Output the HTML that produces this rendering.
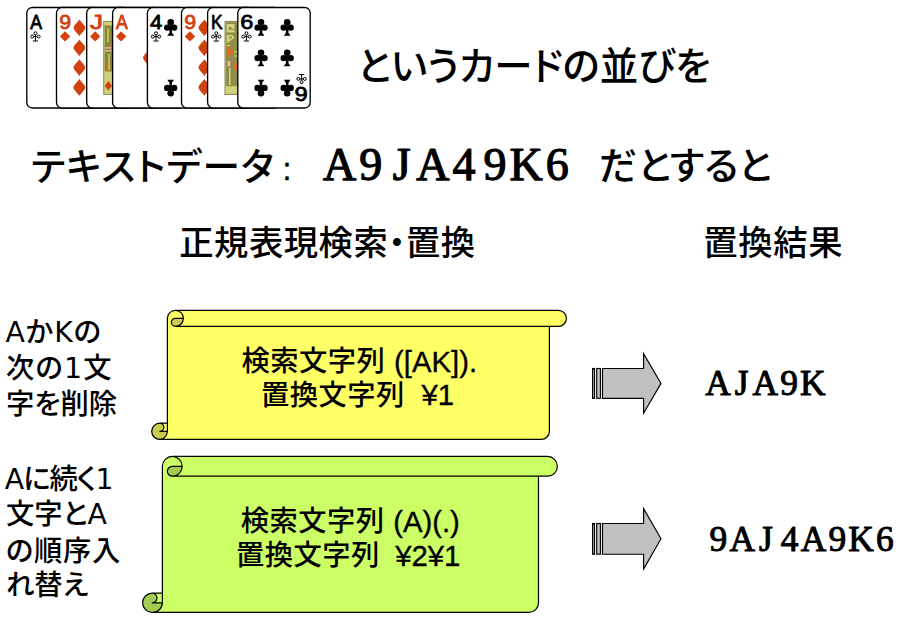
<!DOCTYPE html>
<html lang="ja">
<head>
<meta charset="utf-8">
<title>正規表現検索・置換</title>
<style>
html,body{margin:0;padding:0;background:#fff;}
body{width:908px;height:621px;position:relative;overflow:hidden;color:#000;
 font-family:"Liberation Sans","Noto Sans CJK JP",sans-serif;font-weight:500;}
.t{position:absolute;white-space:nowrap;line-height:1;margin:0;padding:0;font-feature-settings:"palt";}
.lab{font-size:28.3px;}
.dj{font-family:"DejaVu Sans","Liberation Sans","Noto Sans CJK JP",sans-serif;}
.en{font-size:29.3px;line-height:0;-webkit-text-stroke:0.35px #000;position:relative;top:-1px;}
.c .en{letter-spacing:0;top:0.5px;}
.c{width:400px;text-align:center;}
svg{position:absolute;left:0;top:0;}
svg text.rk{font-family:"Liberation Sans",sans-serif;font-weight:normal;font-size:20px;text-anchor:middle;stroke-width:0.8;stroke-linejoin:round;}
svg text.mono{font-family:"Liberation Serif",serif;font-weight:normal;text-anchor:middle;fill:#000;stroke:#000;stroke-linejoin:round;}
</style>
</head>
<body>
<svg id="shapes" width="908" height="621" viewBox="0 0 908 621">
<g id="cards">
<g><rect x="26.8" y="7.5" width="72.4" height="100.5" rx="5.5" ry="5.5" fill="#fff" stroke="#000" stroke-width="1.35"/><svg x="26.8" y="0" width="29.7" height="112" viewBox="26.8 0 29.7 112" overflow="hidden"><text class="rk" transform="translate(36.05,28.7) scale(0.88,1)" fill="#000" stroke="#000">A</text><g transform="translate(35.4,36.4)" fill="none" stroke="#000" stroke-width="1"><circle cx="0" cy="-3.1" r="1.5"/><circle cx="-3.2" cy="0.2" r="1.5"/><circle cx="3.2" cy="0.2" r="1.5"/><path d="M0,-1.6 L0,4.4 M-2.6,4.6 L2.6,4.6 M-1.7,0.2 L1.7,0.2"/></g></svg></g>
<g><rect x="56.5" y="7.5" width="72.4" height="100.5" rx="5.5" ry="5.5" fill="#fff" stroke="#000" stroke-width="1.35"/><svg x="56.5" y="0" width="30.2" height="112" viewBox="56.5 0 30.2 112" overflow="hidden"><text class="rk" transform="translate(65.3,28.7) scale(1.07,1)" fill="#d2420f" stroke="#d2420f">9</text><path transform="translate(65,36.4)" d="M0,-5.2 L5.2,0 L0,5.2 L-5.2,0 Z" fill="#d2420f"/><path transform="translate(79.4,27.8)" d="M0,-8.3 C2.2,-5.2 5.9,-2.2 5.9,0 C5.9,2.2 2.2,5.2 0,8.3 C-2.2,5.2 -5.9,2.2 -5.9,0 C-5.9,-2.2 -2.2,-5.2 0,-8.3 Z" fill="#d2420f"/><path transform="translate(79.4,47.8)" d="M0,-8.3 C2.2,-5.2 5.9,-2.2 5.9,0 C5.9,2.2 2.2,5.2 0,8.3 C-2.2,5.2 -5.9,2.2 -5.9,0 C-5.9,-2.2 -2.2,-5.2 0,-8.3 Z" fill="#d2420f"/><path transform="translate(79.4,67.6) scale(1,-1)" d="M0,-8.3 C2.2,-5.2 5.9,-2.2 5.9,0 C5.9,2.2 2.2,5.2 0,8.3 C-2.2,5.2 -5.9,2.2 -5.9,0 C-5.9,-2.2 -2.2,-5.2 0,-8.3 Z" fill="#d2420f"/><path transform="translate(79.4,87.4) scale(1,-1)" d="M0,-8.3 C2.2,-5.2 5.9,-2.2 5.9,0 C5.9,2.2 2.2,5.2 0,8.3 C-2.2,5.2 -5.9,2.2 -5.9,0 C-5.9,-2.2 -2.2,-5.2 0,-8.3 Z" fill="#d2420f"/></svg></g>
<g><rect x="86.7" y="7.5" width="72.4" height="100.5" rx="5.5" ry="5.5" fill="#fff" stroke="#000" stroke-width="1.35"/><svg x="86.7" y="0" width="25.9" height="112" viewBox="86.7 0 25.9 112" overflow="hidden"><text class="rk" transform="translate(96.4,28.7) scale(1.3,1)" fill="#d2420f" stroke="#d2420f">J</text><path transform="translate(95.2,36.4)" d="M0,-5.2 L5.2,0 L0,5.2 L-5.2,0 Z" fill="#d2420f"/><g><rect x="103.7" y="21.4" width="48" height="73" fill="#cfcf7a" stroke="#8e8e50" stroke-width="1"/><rect x="104.7" y="25.5" width="7.5" height="46" fill="#86863f"/><path d="M108,28 V42 M109,54 V70" stroke="#e9e25c" stroke-width="1.2" fill="none"/><path d="M106,62 V71 M111.3,43 V47 M111.5,66 V71" stroke="#e0641c" stroke-width="1.3" fill="none"/><rect x="105.3" y="47" width="6" height="1.6" fill="#e8b28c"/><rect x="105.3" y="50" width="6" height="1.6" fill="#e8b28c"/><path d="M108.3,81 L111.9,85.7 L108.3,90.4 L104.7,85.7 Z" fill="#d2420f"/></g></svg></g>
<g><rect x="112.6" y="7.5" width="72.4" height="100.5" rx="5.5" ry="5.5" fill="#fff" stroke="#000" stroke-width="1.35"/><svg x="112.6" y="0" width="34.8" height="112" viewBox="112.6 0 34.8 112" overflow="hidden"><text class="rk" transform="translate(121.85,28.7) scale(0.88,1)" fill="#d2420f" stroke="#d2420f">A</text><path transform="translate(121.1,36.4)" d="M0,-5.2 L5.2,0 L0,5.2 L-5.2,0 Z" fill="#d2420f"/><path transform="translate(148.9,57.8)" d="M0,-8.3 C2.2,-5.2 5.9,-2.2 5.9,0 C5.9,2.2 2.2,5.2 0,8.3 C-2.2,5.2 -5.9,2.2 -5.9,0 C-5.9,-2.2 -2.2,-5.2 0,-8.3 Z" fill="#d2420f"/></svg></g>
<g><rect x="147.4" y="7.5" width="72.4" height="100.5" rx="5.5" ry="5.5" fill="#fff" stroke="#000" stroke-width="1.35"/><svg x="147.4" y="0" width="34.1" height="112" viewBox="147.4 0 34.1 112" overflow="hidden"><text class="rk" transform="translate(156.2,28.7) scale(1.1,1)" fill="#000" stroke="#000">4</text><g transform="translate(156,36.4)" fill="none" stroke="#000" stroke-width="1"><circle cx="0" cy="-3.1" r="1.5"/><circle cx="-3.2" cy="0.2" r="1.5"/><circle cx="3.2" cy="0.2" r="1.5"/><path d="M0,-1.6 L0,4.4 M-2.6,4.6 L2.6,4.6 M-1.7,0.2 L1.7,0.2"/></g><g transform="translate(170.7,27.3)" fill="#000"><circle cx="0" cy="-5" r="3.3"/><circle cx="-3.5" cy="0.3" r="3.2"/><circle cx="3.5" cy="0.3" r="3.2"/><path d="M-1.3,-2 L1.3,-2 L1.3,5.5 L3.4,8.4 L-3.4,8.4 L-1.3,5.5 Z"/></g><g transform="translate(170.7,88.2) scale(1,-1)" fill="#000"><circle cx="0" cy="-5" r="3.3"/><circle cx="-3.5" cy="0.3" r="3.2"/><circle cx="3.5" cy="0.3" r="3.2"/><path d="M-1.3,-2 L1.3,-2 L1.3,5.5 L3.4,8.4 L-3.4,8.4 L-1.3,5.5 Z"/></g></svg></g>
<g><rect x="181.5" y="7.5" width="72.4" height="100.5" rx="5.5" ry="5.5" fill="#fff" stroke="#000" stroke-width="1.35"/><svg x="181.5" y="0" width="26.1" height="112" viewBox="181.5 0 26.1 112" overflow="hidden"><text class="rk" transform="translate(190.3,28.7) scale(1.07,1)" fill="#d2420f" stroke="#d2420f">9</text><path transform="translate(190,36.4)" d="M0,-5.2 L5.2,0 L0,5.2 L-5.2,0 Z" fill="#d2420f"/><path transform="translate(204.4,27.8)" d="M0,-8.3 C2.2,-5.2 5.9,-2.2 5.9,0 C5.9,2.2 2.2,5.2 0,8.3 C-2.2,5.2 -5.9,2.2 -5.9,0 C-5.9,-2.2 -2.2,-5.2 0,-8.3 Z" fill="#d2420f"/><path transform="translate(204.4,47.8)" d="M0,-8.3 C2.2,-5.2 5.9,-2.2 5.9,0 C5.9,2.2 2.2,5.2 0,8.3 C-2.2,5.2 -5.9,2.2 -5.9,0 C-5.9,-2.2 -2.2,-5.2 0,-8.3 Z" fill="#d2420f"/><path transform="translate(204.4,67.6) scale(1,-1)" d="M0,-8.3 C2.2,-5.2 5.9,-2.2 5.9,0 C5.9,2.2 2.2,5.2 0,8.3 C-2.2,5.2 -5.9,2.2 -5.9,0 C-5.9,-2.2 -2.2,-5.2 0,-8.3 Z" fill="#d2420f"/><path transform="translate(204.4,87.4) scale(1,-1)" d="M0,-8.3 C2.2,-5.2 5.9,-2.2 5.9,0 C5.9,2.2 2.2,5.2 0,8.3 C-2.2,5.2 -5.9,2.2 -5.9,0 C-5.9,-2.2 -2.2,-5.2 0,-8.3 Z" fill="#d2420f"/></svg></g>
<g><rect x="207.6" y="7.5" width="72.4" height="100.5" rx="5.5" ry="5.5" fill="#fff" stroke="#000" stroke-width="1.35"/><svg x="207.6" y="0" width="30.2" height="112" viewBox="207.6 0 30.2 112" overflow="hidden"><text class="rk" transform="translate(216.7,28.7) scale(0.87,1)" fill="#000" stroke="#000">K</text><g transform="translate(216.2,36.4)" fill="none" stroke="#000" stroke-width="1"><circle cx="0" cy="-3.1" r="1.5"/><circle cx="-3.2" cy="0.2" r="1.5"/><circle cx="3.2" cy="0.2" r="1.5"/><path d="M0,-1.6 L0,4.4 M-2.6,4.6 L2.6,4.6 M-1.7,0.2 L1.7,0.2"/></g><g><rect x="225" y="21.4" width="48" height="73" fill="#d2d27e" stroke="#85854a" stroke-width="1"/><rect x="225.8" y="22.2" width="12.5" height="64" fill="#8e8e4c"/><path d="M226.6,24 H234.5 V29 H231.5 V27 H228.8 V30 H234.5 V32.5 H226.6 Z M226.6,35 H232.5 L234.5,38 L228,42.5 H226.6 Z" fill="#d2d27e"/><path d="M229.2,36.5 H231.8 V38.6 H229.2 Z" fill="#8e8e4c"/><path d="M227.2,46.5 H229.4 V57.5 H227.2 Z M230.4,47 L233.6,51.5 L230.4,56 Z M234.6,62 H237 V70 H234.6 Z" fill="#e8671a"/><path d="M226.6,45.6 H230 M234,52 H237 M234,56 H237" stroke="#eadf5a" stroke-width="1" fill="none"/><path d="M229.8,68 V85" stroke="#e9e27a" stroke-width="1.3" fill="none"/><rect x="227.6" y="61" width="2.6" height="5.4" fill="#ecb896"/></g></svg></g>
<g><rect x="237.8" y="7.5" width="72.4" height="100.5" rx="5.5" ry="5.5" fill="#fff" stroke="#000" stroke-width="1.35"/><text class="rk" transform="translate(246.8,28.7) scale(1.18,1)" fill="#000" stroke="#000">6</text><g transform="translate(246.4,36.4)" fill="none" stroke="#000" stroke-width="1"><circle cx="0" cy="-3.1" r="1.5"/><circle cx="-3.2" cy="0.2" r="1.5"/><circle cx="3.2" cy="0.2" r="1.5"/><path d="M0,-1.6 L0,4.4 M-2.6,4.6 L2.6,4.6 M-1.7,0.2 L1.7,0.2"/></g><g transform="translate(261,27.3)" fill="#000"><circle cx="0" cy="-5" r="3.3"/><circle cx="-3.5" cy="0.3" r="3.2"/><circle cx="3.5" cy="0.3" r="3.2"/><path d="M-1.3,-2 L1.3,-2 L1.3,5.5 L3.4,8.4 L-3.4,8.4 L-1.3,5.5 Z"/></g><g transform="translate(287.2,27.3)" fill="#000"><circle cx="0" cy="-5" r="3.3"/><circle cx="-3.5" cy="0.3" r="3.2"/><circle cx="3.5" cy="0.3" r="3.2"/><path d="M-1.3,-2 L1.3,-2 L1.3,5.5 L3.4,8.4 L-3.4,8.4 L-1.3,5.5 Z"/></g><g transform="translate(261,57.8)" fill="#000"><circle cx="0" cy="-5" r="3.3"/><circle cx="-3.5" cy="0.3" r="3.2"/><circle cx="3.5" cy="0.3" r="3.2"/><path d="M-1.3,-2 L1.3,-2 L1.3,5.5 L3.4,8.4 L-3.4,8.4 L-1.3,5.5 Z"/></g><g transform="translate(287.2,57.8)" fill="#000"><circle cx="0" cy="-5" r="3.3"/><circle cx="-3.5" cy="0.3" r="3.2"/><circle cx="3.5" cy="0.3" r="3.2"/><path d="M-1.3,-2 L1.3,-2 L1.3,5.5 L3.4,8.4 L-3.4,8.4 L-1.3,5.5 Z"/></g><g transform="translate(261,88.2) scale(1,-1)" fill="#000"><circle cx="0" cy="-5" r="3.3"/><circle cx="-3.5" cy="0.3" r="3.2"/><circle cx="3.5" cy="0.3" r="3.2"/><path d="M-1.3,-2 L1.3,-2 L1.3,5.5 L3.4,8.4 L-3.4,8.4 L-1.3,5.5 Z"/></g><g transform="translate(287.2,88.2) scale(1,-1)" fill="#000"><circle cx="0" cy="-5" r="3.3"/><circle cx="-3.5" cy="0.3" r="3.2"/><circle cx="3.5" cy="0.3" r="3.2"/><path d="M-1.3,-2 L1.3,-2 L1.3,5.5 L3.4,8.4 L-3.4,8.4 L-1.3,5.5 Z"/></g><g transform="rotate(180 274 57.75)"><text class="rk" transform="translate(246.8,28.7) scale(1.18,1)" fill="#000" stroke="#000">6</text><g transform="translate(246.4,36.4)" fill="none" stroke="#000" stroke-width="1"><circle cx="0" cy="-3.1" r="1.5"/><circle cx="-3.2" cy="0.2" r="1.5"/><circle cx="3.2" cy="0.2" r="1.5"/><path d="M0,-1.6 L0,4.4 M-2.6,4.6 L2.6,4.6 M-1.7,0.2 L1.7,0.2"/></g></g></g>
</g>
<g id="scrolls">
<g><path d="M167.4,318.3 A8,8 0 0 1 175.4,310.3 L558.4,310.3 A8,8 0 0 1 558.4,326.3 L549.4,326.3 L549.4,431.3 A8.1,8.1 0 0 1 541.3,439.4 L159.8,439.4 A8.1,8.1 0 0 1 151.7,431.3 A8.1,8.1 0 0 1 159.8,423.2 L167.4,423.2 Z" fill="#ffff66"/><path d="M175.4,318.3 L183.4,318.3 A8,8 0 0 1 175.4,326.3 A4,4 0 0 1 171.4,322.3 A4,4 0 0 1 175.4,318.3 Z" fill="#cccc52"/><path d="M159.8,423.2 A4.05,4.05 0 0 1 163.85,427.25 A4.05,4.05 0 0 1 159.8,431.3 L167.4,431.3 A8.1,8.1 0 0 1 159.8,439.4 A8.1,8.1 0 0 1 151.7,431.3 A8.1,8.1 0 0 1 159.8,423.2 Z" fill="#cccc52"/><path d="M167.4,318.3 A8,8 0 0 1 175.4,310.3 L558.4,310.3 A8,8 0 0 1 558.4,326.3 L549.4,326.3 L549.4,431.3 A8.1,8.1 0 0 1 541.3,439.4 L159.8,439.4 A8.1,8.1 0 0 1 151.7,431.3 A8.1,8.1 0 0 1 159.8,423.2 L167.4,423.2 Z M175.4,310.3 A8,8 0 0 1 183.4,318.3 A8,8 0 0 1 175.4,326.3 M183.4,318.3 L175.4,318.3 A4,4 0 0 0 171.4,322.3 A4,4 0 0 0 175.4,326.3 L549.4,326.3 M167.4,423.2 L167.4,431.3 L159.8,431.3 A4.05,4.05 0 0 0 163.85,427.25 A4.05,4.05 0 0 0 159.8,423.2 M167.4,431.3 A8.1,8.1 0 0 1 159.8,439.4" fill="none" stroke="#000" stroke-width="1.2" stroke-linejoin="round"/></g>
<g><path d="M162.4,466.3 A9.9,9.9 0 0 1 172.3,456.4 L547.5,456.4 A9.9,9.9 0 0 1 547.5,476.2 L538.5,476.2 L538.5,602.8 A9.6,9.6 0 0 1 528.9,612.4 L152.2,612.4 A9.6,9.6 0 0 1 142.6,602.8 A9.6,9.6 0 0 1 152.2,593.2 L162.4,593.2 Z" fill="#ccff66"/><path d="M172.3,466.3 L182.2,466.3 A9.9,9.9 0 0 1 172.3,476.2 A4.95,4.95 0 0 1 167.35,471.25 A4.95,4.95 0 0 1 172.3,466.3 Z" fill="#a3cc52"/><path d="M152.2,593.2 A4.8,4.8 0 0 1 157,598 A4.8,4.8 0 0 1 152.2,602.8 L162.4,602.8 A9.6,9.6 0 0 1 152.2,612.4 A9.6,9.6 0 0 1 142.6,602.8 A9.6,9.6 0 0 1 152.2,593.2 Z" fill="#a3cc52"/><path d="M162.4,466.3 A9.9,9.9 0 0 1 172.3,456.4 L547.5,456.4 A9.9,9.9 0 0 1 547.5,476.2 L538.5,476.2 L538.5,602.8 A9.6,9.6 0 0 1 528.9,612.4 L152.2,612.4 A9.6,9.6 0 0 1 142.6,602.8 A9.6,9.6 0 0 1 152.2,593.2 L162.4,593.2 Z M172.3,456.4 A9.9,9.9 0 0 1 182.2,466.3 A9.9,9.9 0 0 1 172.3,476.2 M182.2,466.3 L172.3,466.3 A4.95,4.95 0 0 0 167.35,471.25 A4.95,4.95 0 0 0 172.3,476.2 L538.5,476.2 M162.4,593.2 L162.4,602.8 L152.2,602.8 A4.8,4.8 0 0 0 157,598 A4.8,4.8 0 0 0 152.2,593.2 M162.4,602.8 A9.6,9.6 0 0 1 152.2,612.4" fill="none" stroke="#000" stroke-width="1.2" stroke-linejoin="round"/></g>
<g fill="#c0c0c0" stroke="#000" stroke-width="1.15" stroke-linejoin="miter"><rect x="592.6" y="368.5" width="1.9" height="29.8"/><rect x="596.7" y="368.5" width="3.7" height="29.8"/><path d="M602.5,368.5 L643.6,368.5 L643.6,353.6 L661,383.4 L643.6,413.2 L643.6,398.3 L602.5,398.3 Z"/></g>
<g fill="#c0c0c0" stroke="#000" stroke-width="1.15" stroke-linejoin="miter"><rect x="592.6" y="523.5" width="1.9" height="30.7"/><rect x="596.7" y="523.5" width="3.7" height="30.7"/><path d="M602.5,523.5 L643.6,523.5 L643.6,508.6 L661,538.8 L643.6,569 L643.6,554.2 L602.5,554.2 Z"/></g>
</g>
<text id="m1" class="mono" font-size="46" stroke-width="1.25" y="180" x="339.6 370.7 401.8 432.9 464 495.1 526.2 557.3">A9JA49K6</text>
<text id="r1" class="mono" font-size="35.4" stroke-width="1.0" y="395.3" x="718 741.7 765.4 789.1 812.8">AJA9K</text>
<text id="r2" class="mono" font-size="35.4" stroke-width="1.0" y="551.2" x="718.4 742.17 765.94 789.71 813.48 837.25 861.02 884.79">9AJ4A9K6</text>
</svg>

<div class="t" id="l1" style="left:357px;top:48px;font-size:38.4px;">というカードの並びを</div>
<div class="t" id="l2a" style="left:31px;top:148.7px;font-size:37.6px;letter-spacing:1.15px;">テキストデータ<span style="font-size:32px;font-weight:normal;-webkit-text-stroke:0.45px #000;margin-left:7.6px;">:</span></div>
<div class="t" id="l2c" style="left:599px;top:147px;font-size:38px;">だとすると</div>

<div class="t" id="h1" style="left:179.2px;top:226px;font-size:34.3px;letter-spacing:0.55px;">正規表現検索・置換</div>
<div class="t" id="h2" style="left:703.2px;top:225.8px;font-size:34.4px;letter-spacing:0.6px;">置換結果</div>

<div class="t lab dj" id="a1" style="left:5.4px;top:319.4px;letter-spacing:1px;">AかKの</div>
<div class="t lab dj" id="a2" style="left:6px;top:354.6px;letter-spacing:1.2px;">次の1文</div>
<div class="t lab" id="a3" style="left:6px;top:390px;">字を削除</div>

<div class="t lab dj" id="b1" style="left:4.8px;top:466.2px;letter-spacing:-0.9px;">Aに続く1</div>
<div class="t lab dj" id="b2" style="left:6px;top:500.8px;letter-spacing:0px;">文字とA</div>
<div class="t lab" id="b3" style="left:6px;top:537px;letter-spacing:0.7px;">の順序入</div>
<div class="t lab" id="b4" style="left:6px;top:571px;">れ替え</div>

<div class="t lab c" id="y1" style="left:159.3px;top:347.2px;word-spacing:0.4px;letter-spacing:0.45px;">検索文字列 <span class="en">([AK]).</span></div>
<div class="t lab c" id="y2" style="left:157.6px;top:380.6px;word-spacing:0px;letter-spacing:0.45px;">置換文字列&nbsp; <span class="en">¥1</span></div>
<div class="t lab c" id="g1" style="left:150.3px;top:507px;word-spacing:0.4px;letter-spacing:0.45px;">検索文字列 <span class="en">(A)(.)</span></div>
<div class="t lab c" id="g2" style="left:148.2px;top:541.2px;word-spacing:-0.6px;letter-spacing:0.45px;">置換文字列&nbsp; <span class="en">¥2¥1</span></div>
</body>
</html>
